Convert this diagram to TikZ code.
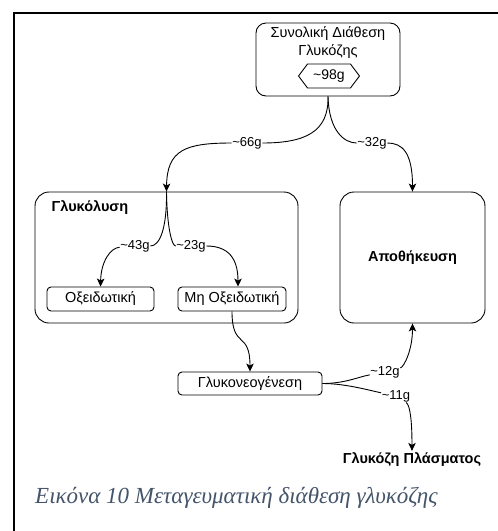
\documentclass[tikz,border=0pt]{standalone}
\usepackage{fontspec}
\setmainfont{Liberation Sans}
\newfontfamily\capfont{Liberation Serif}
\usetikzlibrary{arrows.meta,shapes.symbols}
\definecolor{capblue}{HTML}{44546A}
\tikzset{
  txt/.style={font=\fontsize{14.5}{17}\selectfont},
  btxt/.style={font=\bfseries\fontsize{14.5}{17}\selectfont},
  box/.style={draw, rounded corners=4pt, line width=0.9pt, txt, inner sep=0pt},
  big/.style={draw, rounded corners=14pt, line width=0.9pt, inner sep=0pt},
  lab/.style={fill=white, inner sep=0.5pt, font=\fontsize{13}{14}\selectfont},
  conn/.style={line width=0.9pt},
  arr/.style={line width=0.9pt, -{Stealth[length=8pt,width=7.5pt,inset=2pt]}},
}
\begin{document}
\begin{tikzpicture}[x=1pt,y=-1pt]
\useasboundingbox (0,0) rectangle (498,531);
% frame
\draw[line width=2pt] (14,531) -- (14,13) -- (498,13);
% top node
\node[draw, rounded corners=10pt, line width=0.9pt, minimum width=144pt, minimum height=73pt, inner sep=0pt] (top) at (328,59.5) {};
\node[txt, align=center, anchor=north, inner sep=0pt] (toptxt) at (328,26) {Συνολική Διάθεση\\[1.5pt]Γλυκόζης};
\node[draw, signal, signal to=east and west, signal pointer angle=106, minimum width=61pt, minimum height=24pt, inner sep=0pt, line width=0.9pt, font=\fontsize{14}{16}\selectfont] (hex) at (329,76) {\textasciitilde 98g};
% big boxes
\node[big, minimum width=263pt, minimum height=131pt] (gly) at (166.5,257.5) {};
\node[btxt] (glytxt) at (90,208) {Γλυκόλυση};
\node[big, minimum width=145pt, minimum height=131pt, btxt] (apo) at (412.5,257.5) {Αποθήκευση};
% small boxes
\node[box, minimum width=107pt, minimum height=24pt] (ox) at (100.5,299) {Οξειδωτική};
\node[box, minimum width=108pt, minimum height=24pt] (mox) at (232,299) {Μη Οξειδωτική};
\node[box, minimum width=144pt, minimum height=23pt] (gn) at (250,383.5) {Γλυκονεογένεση};
\node[btxt, inner sep=2pt] (gp) at (412,460) {Γλυκόζη Πλάσματος};
% labels
\node[lab] (l66) at (247,143) {\textasciitilde 66g};
\node[lab] (l32) at (372,143) {\textasciitilde 32g};
\node[lab] (l43) at (135,246) {\textasciitilde 43g};
\node[lab] (l23) at (191,246) {\textasciitilde 23g};
\node[lab] (l12) at (385,372) {\textasciitilde 12g};
\node[lab] (l11) at (396,396) {\textasciitilde 11g};
% connectors
\draw[conn] (top.south) .. controls (329,132) and (305,143) .. (l66);
\draw[arr] (l66) .. controls (185,143) and (167,150) .. (gly.north);
\draw[conn] (top.south) .. controls (329,132) and (345,143) .. (l32);
\draw[arr] (l32) .. controls (402,143) and (412.5,152) .. (apo.north);
\draw[conn] (gly.north) .. controls (167,228) and (160,246) .. (l43);
\draw[arr] (l43) .. controls (110,248) and (101,262) .. (ox.north);
\draw[conn] (gly.north) .. controls (167,228) and (172,246) .. (l23);
\draw[arr] (l23) .. controls (228,246) and (238,258) .. ([xshift=6pt]mox.north);
\draw[arr] (mox.south) .. controls (232,350) and (250,330) .. (gn.north);
\draw[conn] (gn.east) .. controls (345,383.5) and (358,377) .. (l12);
\draw[arr] (l12) .. controls (404,367) and (412.5,350) .. (apo.south);
\draw[conn] (gn.east) .. controls (345,383.5) and (368,390) .. (l11);
\draw[arr] (l11) .. controls (410,405) and (412,420) .. (gp.north);
% caption
\node[anchor=base west, text=capblue, font=\capfont\itshape\fontsize{23}{26}\selectfont, inner sep=0pt] (cap) at (35,503) {Εικόνα 10 Μεταγευματική διάθεση γλυκόζης};
\end{tikzpicture}
\end{document}
